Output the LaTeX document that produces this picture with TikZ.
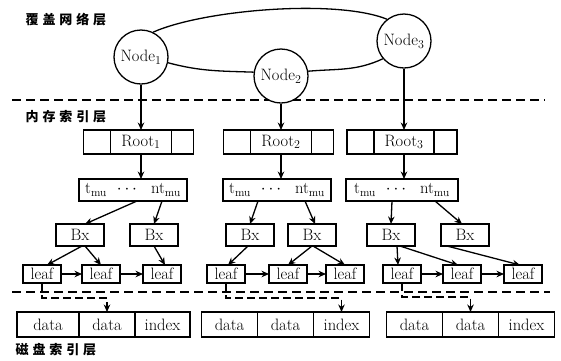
\documentclass[tikz,border=0pt]{standalone}
\usepackage{fontspec}
\usepackage{tikz}
\usetikzlibrary{arrows.meta,positioning}
\newfontfamily\cjk[LetterSpace=30]{Noto Sans CJK SC}
\tikzset{>={Stealth[length=7.5pt,width=6.5pt]}}
\tikzset{
  layer/.style={anchor=west,inner sep=0pt,font=\cjk\bfseries\fontsize{13}{15}\selectfont},
  layerline/.style={line width=1.4pt,dash pattern=on 9pt off 5pt},
  peer/.style={circle,draw,fill=white,minimum size=54pt,inner sep=0pt,font=\fontsize{16.5}{18}\selectfont},
  cell/.style={rectangle,draw,outer sep=0pt,inner sep=1pt,minimum height=24pt,font=\fontsize{16.5}{18}\selectfont},
  tbox/.style={cell,minimum width=108pt,minimum height=22pt},
  bx/.style={cell,minimum width=48pt,minimum height=22pt},
  leaf/.style={cell,minimum width=38pt,minimum height=18pt,text height=11pt,text depth=0pt},
  dcell/.style={cell,minimum width=56pt,minimum height=25pt,text height=11pt,text depth=0pt},
  todisk/.style={->,dash pattern=on 8pt off 4pt}
}

\begin{document}
\begin{tikzpicture}[x=1pt,y=1pt,line width=1.3pt]
            \useasboundingbox (0,0) rectangle (561,-360);

            \node[layer] (lovl) at (25,-20) {覆盖网络层};
            \node[layer] (lmem) at (25,-117) {内存索引层};
            \node[layer] (ldsk) at (15,-350) {磁盘索引层};

            \draw[layerline] (12,-100) -- (545,-100);
            \draw[layerline] (12,-292) -- (550,-292);

            % overlay ring
            \node[peer] (n1) at (141,-57) {Node$_1$};
            \node[peer] (n2) at (281,-76) {Node$_2$};
            \node[peer] (n3) at (404,-41) {Node$_3$};
            \draw (n1.64) to[out=24,in=158,looseness=0.6] (n3.128);
            \draw (n1.-12) to[out=-15,in=178] (n2.172);
            \draw (n2.10) to[out=5,in=-155] (n3.-140);

            % memory index, first tree
            \node[cell,minimum width=61pt] (r1) at (141,-142) {Root$_1$};
            \node[cell,minimum width=27pt,left=0pt of r1] (r1l) {};
            \node[cell,minimum width=22pt,right=0pt of r1] (r1r) {};
            \node[tbox] (t1) at (133,-190) {t\textsubscript{mu}\hspace{10pt}$\cdots$\hspace{14pt}nt\textsubscript{mu}};
            \node[bx] (b1a) at (80,-235) {Bx};
            \node[bx] (b1b) at (154,-235) {Bx};
            \node[leaf] (l1a) at (42,-274) {leaf};
            \node[leaf] (l1b) at (101,-274) {leaf};
            \node[leaf] (l1c) at (162,-274) {leaf};

            % second tree
            \node[cell,minimum width=61pt] (r2) at (281,-142) {Root$_2$};
            \node[cell,minimum width=27pt,left=0pt of r2] (r2l) {};
            \node[cell,minimum width=22pt,right=0pt of r2] (r2r) {};
            \node[tbox] (t2) at (277,-190) {t\textsubscript{mu}\hspace{10pt}$\cdots$\hspace{14pt}nt\textsubscript{mu}};
            \node[bx] (b2a) at (250,-235) {Bx};
            \node[bx] (b2b) at (312,-235) {Bx};
            \node[leaf] (l2a) at (226,-274) {leaf};
            \node[leaf] (l2b) at (288,-274) {leaf};
            \node[leaf] (l2c) at (345,-274) {leaf};

            % third tree
            \node[cell,minimum width=60pt] (r3) at (404,-142) {Root$_3$};
            \node[cell,minimum width=27pt,left=0pt of r3] (r3l) {};
            \node[cell,minimum width=23pt,right=0pt of r3] (r3r) {};
            \node[tbox,minimum width=112pt] (t3) at (402,-190) {t\textsubscript{mu}\hspace{10pt}$\cdots$\hspace{14pt}nt\textsubscript{mu}};
            \node[bx] (b3a) at (391,-235) {Bx};
            \node[bx] (b3b) at (465,-235) {Bx};
            \node[leaf] (l3a) at (402,-274) {leaf};
            \node[leaf] (l3b) at (462,-274) {leaf};
            \node[leaf] (l3c) at (523,-274) {leaf};

            % disk blocks
            \node[dcell] (d1b) at (107,-324.5) {data};
            \node[dcell,minimum width=62pt,left=0pt of d1b] (d1a) {data};
            \node[dcell,minimum width=55pt,right=0pt of d1b] (d1c) {index};
            \node[dcell] (d2b) at (285.5,-324.5) {data};
            \node[dcell,left=0pt of d2b] (d2a) {data};
            \node[dcell,right=0pt of d2b] (d2c) {index};
            \node[dcell] (d3b) at (470.5,-324.5) {data};
            \node[dcell,left=0pt of d3b] (d3a) {data};
            \node[dcell,right=0pt of d3b] (d3c) {index};

            \draw[->] (n1.south) -- (r1.north);
            \draw[->] (n2.south) -- (r2.north);
            \draw[->] (n3.south) -- (r3.north);

            \draw[->] (r1.south) -- (r1.south |- t1.north);
            \draw[->] ([xshift=4pt]t1.south) -- ([xshift=5pt]b1a.north);
            \draw[->] ([xshift=29pt]t1.south) -- (b1b.north);
            \draw[->] ([xshift=2pt]b1a.south) -- ([xshift=5pt]l1a.north);
            \draw[->] ([xshift=5pt]b1a.south) -- (l1b.north);
            \draw[->] (b1b.south) -- ([xshift=3pt]l1c.north);
            \draw[->] (l1a) -- (l1b);
            \draw[->] (l1b) -- (l1c);
            \draw[todisk] (l1a.south) -- ++(0,-15) -| (d1b.north);

            \draw[->] (r2.south) -- (r2.south |- t2.north);
            \draw[->] ([xshift=-19pt]t2.south) -- (b2a.north);
            \draw[->] ([xshift=28pt]t2.south) -- ([xshift=3pt]b2b.north);
            \draw[->] ([xshift=-2pt]b2a.south) -- ([xshift=2pt]l2a.north);
            \draw[->] (b2b.south) -- (l2b.north);
            \draw[->] ([xshift=1pt]b2b.south) -- (l2c.north);
            \draw[->] (l2a) -- (l2b);
            \draw[->] (l2b) -- (l2c);
            \draw[todisk] (l2a.south) -- ++(0,-15) -| (d2c.north);

            \draw[->] (r3.south) -- (r3.south |- t3.north);
            \draw[->] ([xshift=-10pt]t3.south) -- (b3a.north);
            \draw[->] ([xshift=33pt]t3.south) -- ([xshift=-3pt]b3b.north);
            \draw[->] ([xshift=6pt]b3a.south) -- ([xshift=-4pt]l3a.north);
            \draw[->] ([xshift=9pt]b3a.south) -- ([xshift=-4pt]l3b.north);
            \draw[->] ([xshift=-18pt]b3b.south) -- ([xshift=-3pt]l3c.north);
            \draw[->] (l3a) -- (l3b);
            \draw[->] (l3b) -- (l3c);
            \draw[todisk] (l3a.south) -- ++(0,-14) -| (d3b.north);

\end{tikzpicture}
\end{document}
